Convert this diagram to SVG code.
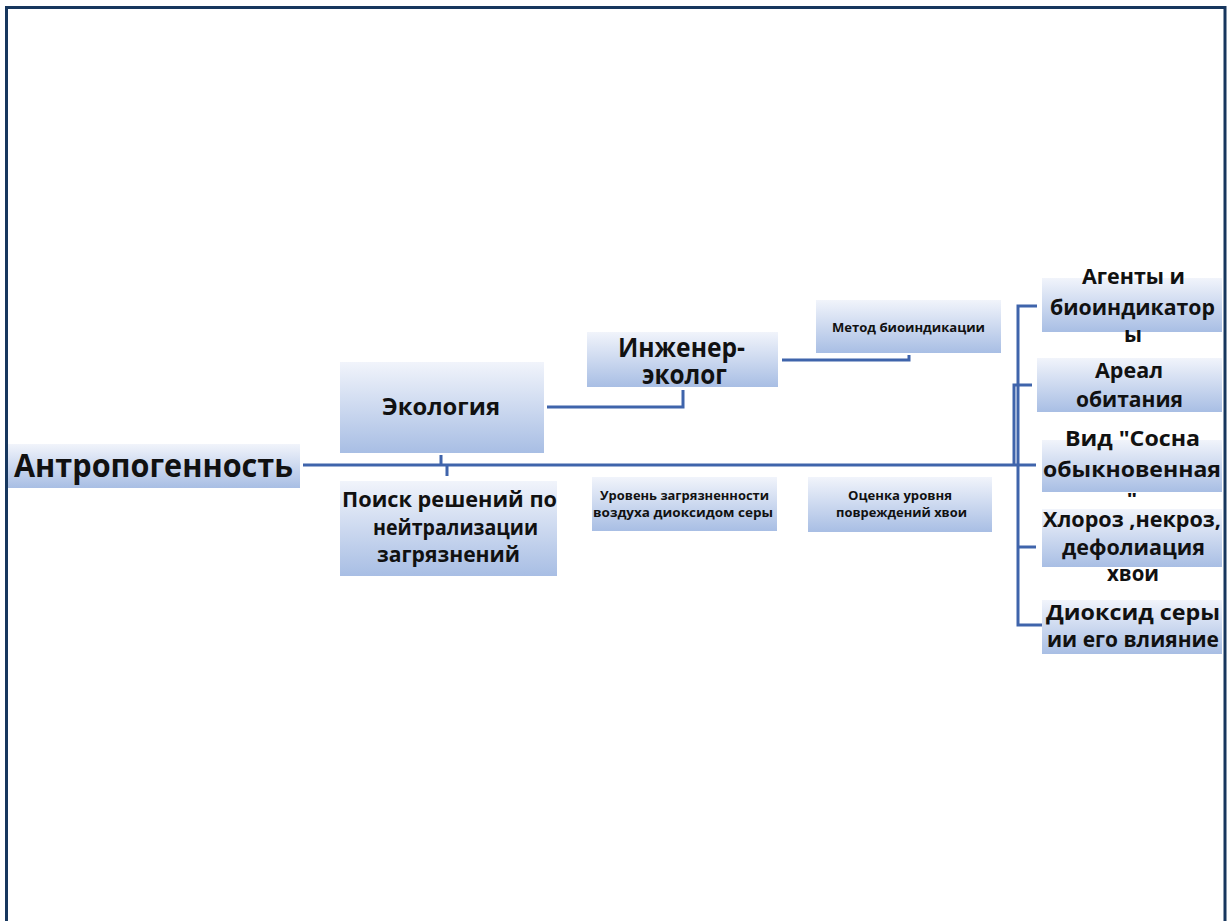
<svg xmlns="http://www.w3.org/2000/svg" width="1230" height="921" viewBox="0 0 1230 921">
<defs>
<linearGradient id="g" x1="0" y1="0" x2="0" y2="1">
<stop offset="0" stop-color="#f1f4fb"/>
<stop offset="1" stop-color="#a8bee4"/>
</linearGradient>
<clipPath id="clipVid"><rect x="1030" y="420" width="200" height="77"/></clipPath>
</defs>
<style>
.box{fill:url(#g)}
.t{font-family:"Open Sans","Noto Sans","DejaVu Sans",sans-serif;font-weight:700;fill:#111;text-anchor:middle}
.c{fill:none;stroke:#3f64ab;stroke-width:3}
.frame{fill:none;stroke:#17375e;stroke-width:3}
</style>
<rect width="1230" height="921" fill="#ffffff"/>
<path class="frame" d="M6.5,921 V7.5 H1225 V921"/>

<g id="connectors">
<path class="c" d="M303,465 H1036"/>
<path class="c" d="M441,455 V465 M447,465 V476"/>
<path class="c" d="M547,407 H683 V390"/>
<path class="c" d="M782,360 H909 V355"/>
<path class="c" d="M1037,306 H1018 V625 H1044"/>
<path class="c" d="M1032,385 H1014 V465"/>
<path class="c" d="M1018,547 H1036"/>
</g>

<g id="n-antropogennost">
<rect class="box" x="8" y="444" width="292" height="44"/>
<text class="t" x="153.5" y="477" font-size="33" textLength="279" lengthAdjust="spacingAndGlyphs">Антропогенность</text>
</g>

<g id="n-ekologiya">
<rect class="box" x="340" y="362" width="204" height="91"/>
<text class="t" x="441" y="415" font-size="24" textLength="118" lengthAdjust="spacingAndGlyphs">Экология</text>
</g>

<g id="n-poisk">
<rect class="box" x="340" y="481" width="217" height="95"/>
<text class="t" x="449.5" y="507" font-size="22" textLength="215" lengthAdjust="spacingAndGlyphs">Поиск решений по</text>
<text class="t" x="455.5" y="535" font-size="22" textLength="165" lengthAdjust="spacingAndGlyphs">нейтрализации</text>
<text class="t" x="448.5" y="562" font-size="22" textLength="143" lengthAdjust="spacingAndGlyphs">загрязнений</text>
</g>

<g id="n-inzhener">
<rect class="box" x="587" y="332" width="191" height="55"/>
<text class="t" x="681.5" y="357" font-size="26" textLength="127" lengthAdjust="spacingAndGlyphs">Инженер-</text>
<text class="t" x="684.5" y="384" font-size="26" textLength="85" lengthAdjust="spacingAndGlyphs">эколог</text>
</g>

<g id="n-metod">
<rect class="box" x="816" y="300" width="185" height="53"/>
<text class="t" x="908.5" y="332" font-size="12.5" textLength="153" lengthAdjust="spacingAndGlyphs">Метод биоиндикации</text>
</g>

<g id="n-uroven">
<rect class="box" x="592" y="477" width="185" height="54"/>
<text class="t" x="684.5" y="500" font-size="12.5" textLength="169" lengthAdjust="spacingAndGlyphs">Уровень загрязненности</text>
<text class="t" x="683" y="517" font-size="12.5" textLength="180" lengthAdjust="spacingAndGlyphs">воздуха диоксидом серы</text>
</g>

<g id="n-ocenka">
<rect class="box" x="808" y="477" width="184" height="55"/>
<text class="t" x="900" y="500" font-size="12.5" textLength="104" lengthAdjust="spacingAndGlyphs">Оценка уровня</text>
<text class="t" x="901.5" y="517" font-size="12.5" textLength="131" lengthAdjust="spacingAndGlyphs">повреждений хвои</text>
</g>

<g id="n-agenty">
<rect class="box" x="1042" y="278" width="180" height="54"/>
<text class="t" x="1133.5" y="284" font-size="22" textLength="103" lengthAdjust="spacingAndGlyphs">Агенты и</text>
<text class="t" x="1132.5" y="315" font-size="22" textLength="165" lengthAdjust="spacingAndGlyphs">биоиндикатор</text>
<text class="t" x="1133" y="342" font-size="22" textLength="18" lengthAdjust="spacingAndGlyphs">ы</text>
</g>

<g id="n-areal">
<rect class="box" x="1037" y="358" width="185" height="54"/>
<text class="t" x="1129" y="378" font-size="22" textLength="68" lengthAdjust="spacingAndGlyphs">Ареал</text>
<text class="t" x="1129.5" y="407" font-size="22" textLength="107" lengthAdjust="spacingAndGlyphs">обитания</text>
</g>

<g id="n-vid">
<rect class="box" x="1042" y="440" width="180" height="52"/>
<g clip-path="url(#clipVid)">
<text class="t" x="1132.5" y="446" font-size="22" textLength="135" lengthAdjust="spacingAndGlyphs">Вид "Сосна</text>
<text class="t" x="1132" y="477" font-size="22" textLength="178" lengthAdjust="spacingAndGlyphs">обыкновенная</text>
<text class="t" x="1132" y="508" font-size="22">"</text>
</g>
</g>

<g id="n-hloroz">
<rect class="box" x="1042" y="509" width="180" height="58"/>
<text class="t" x="1132" y="527" font-size="22" textLength="178" lengthAdjust="spacingAndGlyphs">Хлороз ,некроз,</text>
<text class="t" x="1133.5" y="555" font-size="22" textLength="143" lengthAdjust="spacingAndGlyphs">дефолиация</text>
<text class="t" x="1133" y="581" font-size="22" textLength="52" lengthAdjust="spacingAndGlyphs">хвои</text>
</g>

<g id="n-dioksid">
<rect class="box" x="1042" y="600" width="180" height="54"/>
<text class="t" x="1133" y="620" font-size="22" textLength="174" lengthAdjust="spacingAndGlyphs">Диоксид серы</text>
<text class="t" x="1133" y="647" font-size="22" textLength="172" lengthAdjust="spacingAndGlyphs">ии его влияние</text>
</g>
</svg>
